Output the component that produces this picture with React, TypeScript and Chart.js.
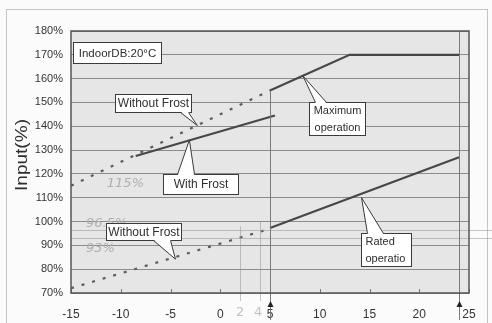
import React, { useEffect, useRef } from 'react';
import { Chart, registerables } from 'chart.js';

Chart.register(...registerables);

// ---- data ----
const xTicks = [-15, -10, -5, 0, 5, 10, 15, 20, 25];
const yTicks = [70, 80, 90, 100, 110, 120, 130, 140, 150, 160, 170, 180];

const withoutFrostMaxX = [-15, 5];
const withoutFrostMaxY = [115, 155];
const maxOperationX = [5, 13, 24];
const maxOperationY = [155, 170, 170];
const withFrostX = [-8.5, 5.5];
const withFrostY = [127.5, 144.5];
const withoutFrostRatedX = [-15, 5];
const withoutFrostRatedY = [72, 97];
const ratedX = [5, 24];
const ratedY = [97.3, 127];

const markerX = [5, 24];
const markerTopY = [155, 180];
const handLineX = [2, 4];
const handLineTopY = [98, 100];
const handLevels = [96.5, 93];
const handNotes = [
  { text: '115%', x: -11.4, y: 116 },
  { text: '96.5%', x: -13.5, y: 99.3 },
  { text: '93%', x: -13.5, y: 88.5 },
];
const handTickLabels = [
  { text: '2', x: 2 },
  { text: '4', x: 3.8 },
];

const callouts = [
  { lines: ['Without Frost'], tipX: -2.3, tipY: 140.3, boxX: -10.6, boxY: 153.5, w: 76, h: 18, side: 'bottom', base: [65, 73], size: 12, align: 'center' },
  { lines: ['With Frost'], tipX: -3.1, tipY: 134.2, boxX: -5.75, boxY: 120.0, w: 75, h: 20, side: 'top', base: [14, 31], size: 12, align: 'center' },
  { lines: ['Maximum', 'operation'], tipX: 8.3, tipY: 161.2, boxX: 8.9, boxY: 150.2, w: 56, h: 33, side: 'top', base: [6, 17], size: 11, align: 'center' },
  { lines: ['Without Frost'], tipX: -4.5, tipY: 84.2, boxX: -11.5, boxY: 99.4, w: 75, h: 17, side: 'bottom', base: [47, 64], size: 12, align: 'center' },
  { lines: ['Rated', 'operatio'], tipX: 14.2, tipY: 110.0, boxX: 14.15, boxY: 95.2, w: 50, h: 33, side: 'top', base: [6, 22], size: 11, align: 'left' },
  { lines: ['IndoorDB:20°C'], tipX: null, tipY: null, boxX: -14.8, boxY: 175.4, w: 88, h: 21, side: 'none', base: [0, 0], size: 11.5, align: 'center' },
];

const FONT = "'Liberation Sans', Arial, sans-serif";

const toPts = (xs: number[], ys: number[]) => xs.map((x, i) => ({ x, y: ys[i] }));

const decorPlugin = {
  id: 'decor',
  beforeDraw(chart: any) {
    const { ctx, chartArea: a, width, height } = chart;
    ctx.save();
    ctx.fillStyle = '#fbfbfb';
    ctx.fillRect(0, 0, width, height);
    ctx.strokeStyle = '#c4c4c4';
    ctx.lineWidth = 1;
    ctx.strokeRect(6.5, 9.5, 481, 330);
    ctx.fillStyle = '#e6e6e6';
    ctx.fillRect(a.left, a.top, a.right - a.left, a.bottom - a.top);
    ctx.restore();
  },
  afterDatasetsDraw(chart: any) {
    const { ctx, chartArea: a } = chart;
    const xs = chart.scales.x;
    const ys = chart.scales.y;
    ctx.save();

    // faint hand-drawn horizontal levels
    ctx.strokeStyle = 'rgba(150,150,150,0.55)';
    ctx.lineWidth = 1;
    handLevels.forEach((lv) => {
      const py = Math.round(ys.getPixelForValue(lv)) + 0.5;
      ctx.beginPath();
      ctx.moveTo(a.left, py);
      ctx.lineTo(492, py);
      ctx.stroke();
    });
    // faint hand-drawn verticals
    handLineX.forEach((v, i) => {
      const px = Math.round(xs.getPixelForValue(v)) + 0.5;
      ctx.beginPath();
      ctx.moveTo(px, ys.getPixelForValue(handLineTopY[i]));
      ctx.lineTo(px, a.bottom + 8);
      ctx.stroke();
    });

    // marker verticals with arrows
    ctx.strokeStyle = '#7a7a7a';
    markerX.forEach((v, i) => {
      const px = Math.round(xs.getPixelForValue(v)) + 0.5;
      ctx.beginPath();
      ctx.moveTo(px, ys.getPixelForValue(markerTopY[i]));
      ctx.lineTo(px, a.bottom + 27);
      ctx.stroke();
      ctx.fillStyle = '#222';
      ctx.beginPath();
      ctx.moveTo(px, a.bottom + 8);
      ctx.lineTo(px - 3, a.bottom + 14);
      ctx.lineTo(px + 3, a.bottom + 14);
      ctx.closePath();
      ctx.fill();
    });

    // small x ticks inside the plot
    ctx.strokeStyle = '#777';
    xTicks.forEach((v) => {
      const px = Math.round(xs.getPixelForValue(v)) + 0.5;
      ctx.beginPath();
      ctx.moveTo(px, a.bottom);
      ctx.lineTo(px, a.bottom - 4);
      ctx.stroke();
    });

    // plot border
    ctx.strokeStyle = '#555';
    ctx.lineWidth = 1.5;
    ctx.strokeRect(a.left, a.top, a.right - a.left, a.bottom - a.top);

    // handwritten notes
    ctx.fillStyle = '#b0b0b0';
    ctx.font = `italic 13px 'DejaVu Sans', sans-serif`;
    ctx.textBaseline = 'middle';
    ctx.textAlign = 'left';
    handNotes.forEach((n) => {
      ctx.fillText(n.text, xs.getPixelForValue(n.x), ys.getPixelForValue(n.y));
    });
    ctx.font = `13px 'DejaVu Sans', sans-serif`;
    ctx.fillStyle = '#c2c2c2';
    ctx.textAlign = 'center';
    handTickLabels.forEach((n) => {
      ctx.fillText(n.text, xs.getPixelForValue(n.x), a.bottom + 20);
    });

    // callouts
    callouts.forEach((c) => {
      const bx = Math.round(xs.getPixelForValue(c.boxX)) + 0.5;
      const by = Math.round(ys.getPixelForValue(c.boxY)) + 0.5;
      ctx.lineWidth = 1;
      ctx.strokeStyle = '#3a3a3a';
      ctx.fillStyle = '#ffffff';
      ctx.fillRect(bx, by, c.w, c.h);
      ctx.strokeRect(bx, by, c.w, c.h);
      if (c.tipX !== null) {
        const tx = xs.getPixelForValue(c.tipX);
        const ty = ys.getPixelForValue(c.tipY);
        const edgeY = c.side === 'top' ? by : by + c.h;
        const inset = c.side === 'top' ? 1 : -1;
        const b1 = bx + c.base[0];
        const b2 = bx + c.base[1];
        ctx.beginPath();
        ctx.moveTo(b1, edgeY + inset);
        ctx.lineTo(tx, ty);
        ctx.lineTo(b2, edgeY + inset);
        ctx.closePath();
        ctx.fill();
        ctx.beginPath();
        ctx.moveTo(b1, edgeY);
        ctx.lineTo(tx, ty);
        ctx.lineTo(b2, edgeY);
        ctx.stroke();
      }
      ctx.fillStyle = '#2e2e2e';
      ctx.font = `${c.size}px ${FONT}`;
      ctx.textBaseline = 'middle';
      const lh = c.h / c.lines.length;
      c.lines.forEach((line, i) => {
        const cy = by + lh * (i + 0.5) + 0.5;
        if (c.align === 'left') {
          ctx.textAlign = 'left';
          ctx.fillText(line, bx + 4, cy);
        } else {
          ctx.textAlign = 'center';
          ctx.fillText(line, bx + c.w / 2, cy);
        }
      });
    });

    // y-axis title
    ctx.save();
    ctx.translate(22, 155);
    ctx.rotate(-Math.PI / 2);
    ctx.scale(1.12, 1);
    ctx.fillStyle = '#2e2e2e';
    ctx.font = `17px ${FONT}`;
    ctx.textAlign = 'center';
    ctx.textBaseline = 'middle';
    ctx.fillText('Input(%)', 0, 0);
    ctx.restore();

    ctx.restore();
  },
};

export default function App() {
  const ref = useRef<HTMLCanvasElement | null>(null);

  useEffect(() => {
    document.body.style.margin = '0';
    const canvas = ref.current;
    if (!canvas) return;
    const lineColor = '#474747';
    const dotColor = '#5c5c5c';
    const chart = new Chart(canvas, {
      type: 'line',
      data: {
        datasets: [
          { data: toPts(withoutFrostMaxX, withoutFrostMaxY), borderColor: dotColor, borderWidth: 2.2, borderDash: [3, 8], pointRadius: 0, tension: 0 },
          { data: toPts(maxOperationX, maxOperationY), borderColor: lineColor, borderWidth: 2.2, pointRadius: 0, tension: 0 },
          { data: toPts(withFrostX, withFrostY), borderColor: lineColor, borderWidth: 2.2, pointRadius: 0, tension: 0 },
          { data: toPts(withoutFrostRatedX, withoutFrostRatedY), borderColor: dotColor, borderWidth: 2.2, borderDash: [3, 8], pointRadius: 0, tension: 0 },
          { data: toPts(ratedX, ratedY), borderColor: lineColor, borderWidth: 2.2, pointRadius: 0, tension: 0 },
        ],
      },
      options: {
        responsive: false,
        animation: false,
        devicePixelRatio: 1,
        layout: { padding: { top: 31, right: 23, left: 0, bottom: 0 } },
        plugins: { legend: { display: false }, tooltip: { enabled: false } },
        scales: {
          x: {
            type: 'linear',
            min: -15,
            max: 25,
            afterBuildTicks: (s: any) => { s.ticks = xTicks.map((v) => ({ value: v })); },
            afterFit: (s: any) => { s.height = 30; },
            grid: { display: false },
            border: { display: false },
            ticks: {
              autoSkip: false,
              maxRotation: 0,
              padding: 6,
              color: '#333',
              font: { family: FONT, size: 12 },
            },
          },
          y: {
            type: 'linear',
            min: 70,
            max: 180,
            afterBuildTicks: (s: any) => { s.ticks = yTicks.map((v) => ({ value: v })); },
            afterFit: (s: any) => { s.width = 71; },
            grid: { color: '#8c8c8c', lineWidth: 1, drawTicks: false },
            border: { display: false },
            ticks: {
              padding: 8,
              color: '#333',
              font: { family: FONT, size: 11 },
              callback: (v: any) => `${v}%`,
            },
          },
        },
      },
      plugins: [decorPlugin],
    } as any);
    return () => chart.destroy();
  }, []);

  return <canvas ref={ref} width={492} height={323} style={{ display: 'block', width: 492, height: 323 }} />;
}
